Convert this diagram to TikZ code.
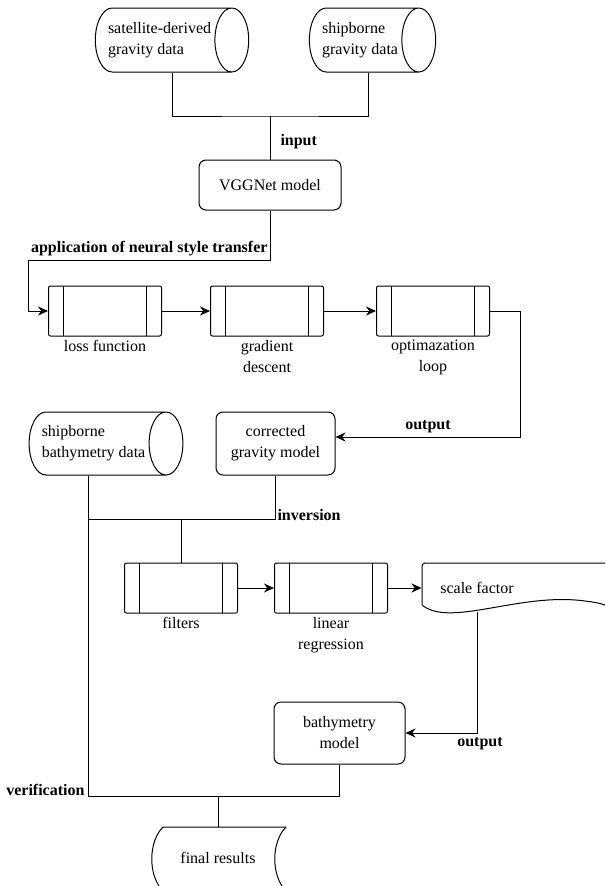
\documentclass[tikz,border=0pt]{standalone}
\usepackage{fontspec}
\setmainfont{Liberation Serif}
\usetikzlibrary{shapes.geometric,arrows.meta}
\begin{document}
\begin{tikzpicture}[x=1pt,y=-1pt,line width=1pt,
    font=\fontsize{16}{21}\selectfont,
    arr/.style={-{Stealth[length=10pt,width=9pt]}},
    lbl/.style={font=\fontsize{16}{21}\selectfont\bfseries,inner sep=2pt},
    store/.style={draw,cylinder,aspect=0.8,align=left,anchor=shape center,minimum width=64pt},
    model/.style={draw,rounded corners=7pt,align=center},
    procbox/.style={draw,rounded corners=2pt,minimum width=113pt,minimum height=50pt,
      path picture={\draw ([xshift=15pt]path picture bounding box.north west) -- ([xshift=15pt]path picture bounding box.south west)
        ([xshift=-15pt]path picture bounding box.north east) -- ([xshift=-15pt]path picture bounding box.south east);}}]
  \useasboundingbox (0,0) rectangle (605,886);
  \clip (0,0) rectangle (605,886);
  % data and models
  \node[store,minimum height=152pt] (sat) at (172,40) {satellite-derived\\gravity data};
  \node[store,minimum height=121pt] (shipg) at (372.5,40) {shipborne\\gravity data};
  \node[model,minimum width=142pt,minimum height=50pt] (vgg) at (270,185) {VGGNet model};
  \node[store,minimum height=152pt,minimum width=63pt] (bathy) at (106,443.5) {shipborne\\bathymetry data};
  \node[model,minimum width=119pt,minimum height=63pt] (corr) at (275.5,443.5) {corrected\\gravity model};
  \node[model,minimum width=131pt,minimum height=62pt] (bmod) at (339.5,733) {bathymetry\\model};
  \node[minimum width=110pt,minimum height=46pt] (sf) at (477,588) {scale factor};
  \node[minimum width=124pt,minimum height=62pt] (fin) at (218,858) {final results};
  % processes
  \foreach \id / \x / \lb in {loss/105/loss function, grad/267/gradient\\descent, optim/433/optimazation\\loop}{
    \node[procbox,label={[align=center]below:\lb}] (\id) at (\x,311) {};
  }
  \foreach \id / \x / \lb in {filt/181/filters, linreg/331/linear\\regression}{
    \node[procbox,label={[align=center]below:\lb}] (\id) at (\x,588) {};
  }
  % document and stored data outlines
  \draw[rounded corners=3pt] (422,605) -- (422,563) -- (615,563);
  \draw (422,605) .. controls (450,628) and (520,592) .. (585,601) .. controls (600,603) .. (615,609);
  \draw (286,827) -- (163,827) .. controls (148,842) and (148,876) .. (163,891) -- (286,891);
  \draw (286,827) .. controls (271,842) and (271,876) .. (286,891);
  % connectors
  \coordinate (jin) at (270,116);
  \coordinate (nst) at (28,260);
  \coordinate (outa) at (520,437);
  \coordinate (jinv) at (181,519);
  \coordinate (jver) at (218,796);
  \draw (sat.south -| sat.shape center) |- (jin) -| ([xshift=-4pt]shipg.south -| shipg.shape center);
  \draw (jin) -- (vgg.north) node[lbl,pos=0.6,right,xshift=8pt] (inlbl) {input};
  \draw[arr] (vgg.south) |- (nst) |- (loss.west);
  \node[lbl,anchor=south east,yshift=2pt] (nstlbl) at (vgg.south |- nst) {application of neural style transfer};
  \draw[arr] (loss) -- (grad);
  \draw[arr] (grad) -- (optim);
  \draw[arr] (optim.east) -| (outa) -- ([yshift=6.5pt]corr.east);
  \node[lbl,anchor=south] (outalbl) at (428,435) {output};
  \draw (corr.south) |- (88,519);
  \draw (jinv) -- (filt.north);
  \node[lbl,anchor=west] (invlbl) at (275,515) {inversion};
  \draw[arr] (filt) -- (linreg);
  \draw[arr] (linreg) -- (sf);
  \draw[arr] (sf.south) |- (bmod.east);
  \node[lbl,anchor=north] (outblbl) at (480,735) {output};
  \draw (bathy.south -| 88,0) -- (88,796) -| (bmod.south);
  \node[lbl,anchor=base east] (verlbl) at (87,795) {verification};
  \draw (jver) -- (fin.north);
\end{tikzpicture}
\end{document}
